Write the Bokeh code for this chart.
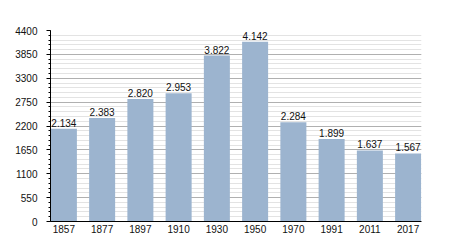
from bokeh.plotting import figure
from bokeh.models import Range1d, FixedTicker, ColumnDataSource
from bokeh.core.properties import value
from bokeh.embed import file_html
from bokeh.resources import INLINE

years = ["1857", "1877", "1897", "1910", "1930", "1950", "1970", "1991", "2011", "2017"]
population = [2134, 2383, 2820, 2953, 3822, 4142, 2284, 1899, 1637, 1567]
y_ticks = [0, 550, 1100, 1650, 2200, 2750, 3300, 3850, 4400]
y_minor = list(range(0, 4401, 110))

labels = [f"{v // 1000}.{v % 1000:03d}" for v in population]
xs = list(range(len(years)))

src = ColumnDataSource(dict(x=xs, top=population, label=labels))

p = figure(width=450, height=250, output_backend="svg", toolbar_location=None,
           x_range=Range1d(-0.35, len(years) - 1 + 0.35), y_range=Range1d(0, 4400),
           min_border_left=50, min_border_right=29, min_border_top=30, min_border_bottom=29)
p.outline_line_color = None
p.background_fill_color = "white"
p.border_fill_color = "white"

p.vbar(x="x", top="top", width=0.68, bottom=0, source=src,
       fill_color="#9cb4cf", line_color=None)

p.text(x="x", y="top", text="label", source=src, text_align="center",
       text_baseline="bottom", y_offset=-2, text_font=value("Liberation Sans"),
       text_font_size="10px", text_color="#111111")

p.xgrid.grid_line_color = None
p.ygrid.ticker = FixedTicker(ticks=y_ticks, minor_ticks=y_minor)
p.ygrid.grid_line_color = "#b0b0b0"
p.ygrid.minor_grid_line_color = "#e3e3e3"

p.yaxis.ticker = FixedTicker(ticks=y_ticks, minor_ticks=y_minor)
p.yaxis.axis_line_color = "black"
p.yaxis.major_tick_line_color = "black"
p.yaxis.major_tick_out = 4
p.yaxis.major_tick_in = 0
p.yaxis.minor_tick_line_color = "black"
p.yaxis.minor_tick_out = 2
p.yaxis.minor_tick_in = 0
p.yaxis.major_label_standoff = 9
p.yaxis.major_label_text_font = "Liberation Sans"
p.yaxis.major_label_text_font_size = "10px"
p.yaxis.major_label_text_color = "#111111"

p.xaxis.ticker = FixedTicker(ticks=xs)
p.xaxis.major_label_overrides = {i: y for i, y in zip(xs, years)}
p.xaxis.axis_line_color = "black"
p.xaxis.major_tick_line_color = None
p.xaxis.major_tick_out = 0
p.xaxis.major_tick_in = 0
p.xaxis.minor_tick_line_color = None
p.xaxis.major_label_standoff = 3
p.xaxis.major_label_text_font = "Liberation Sans"
p.xaxis.major_label_text_font_size = "10px"
p.xaxis.major_label_text_color = "#111111"

open("out.html", "w").write(file_html(p, INLINE))
